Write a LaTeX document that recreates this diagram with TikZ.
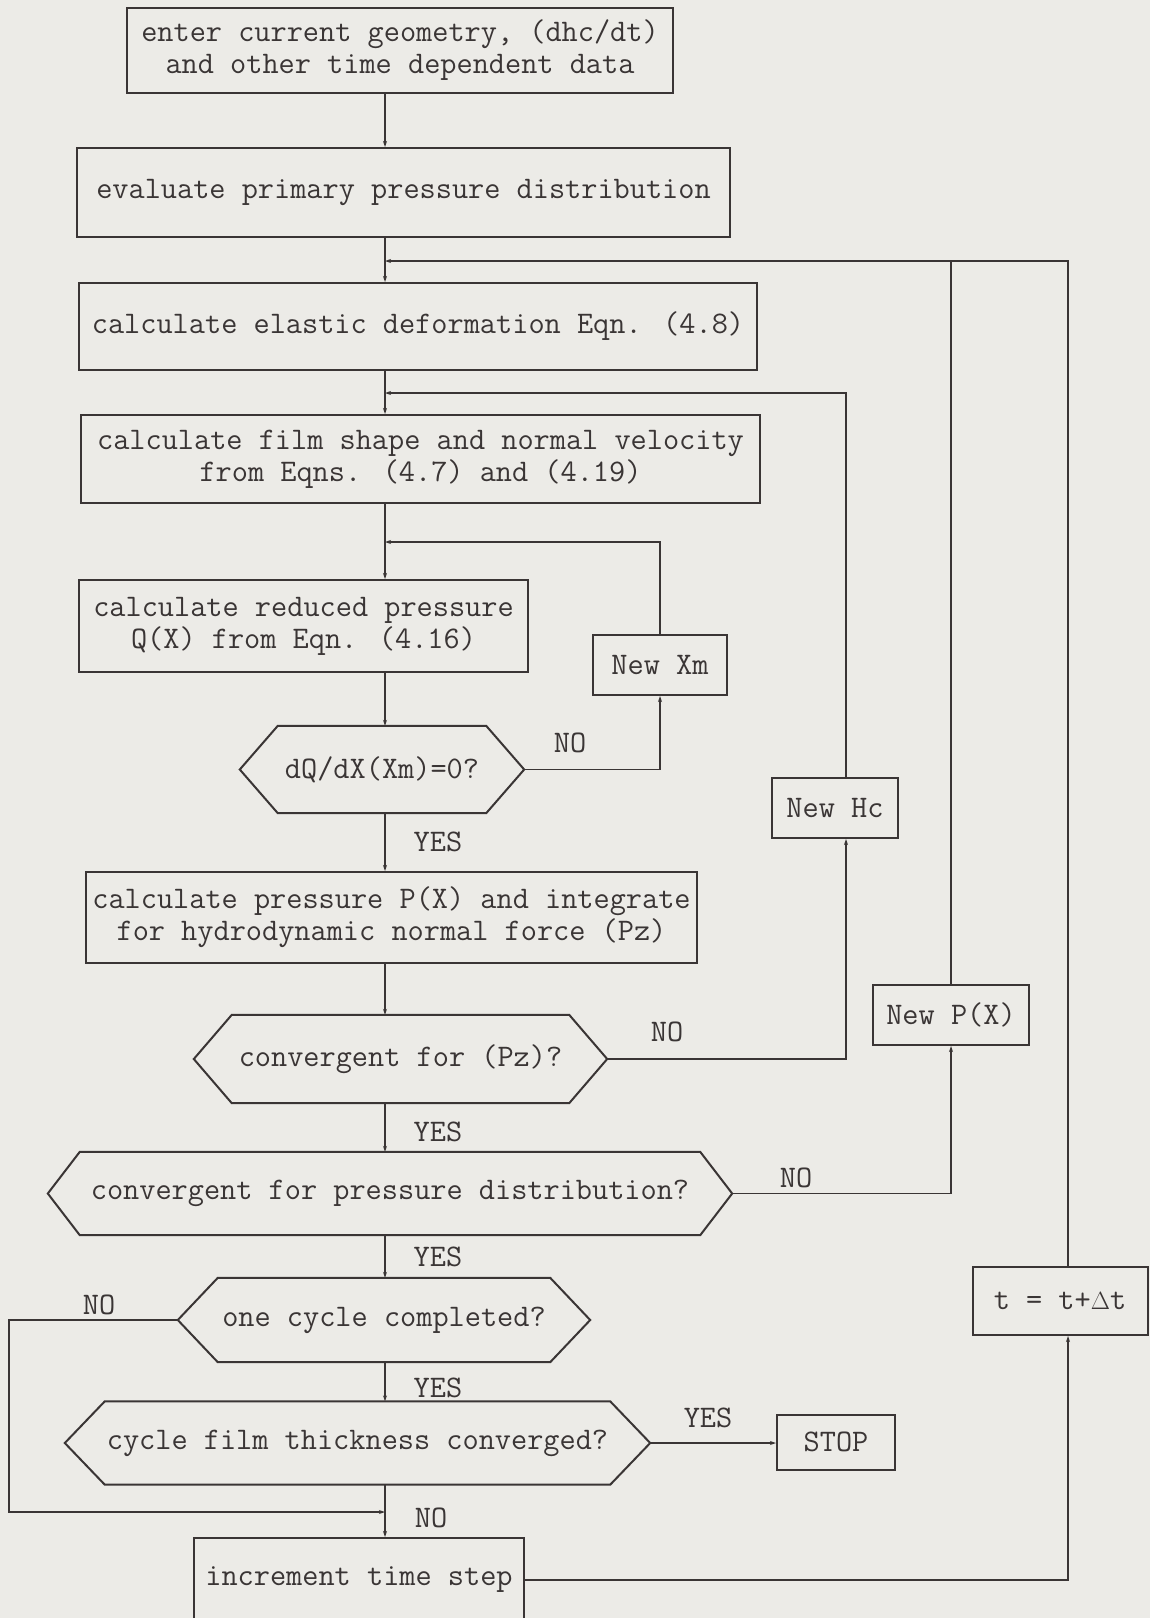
\documentclass[tikz,border=0pt]{standalone}
\usepackage{tikz}
\usetikzlibrary{arrows.meta}
\definecolor{paperColor}{RGB}{236,235,231}
\definecolor{inkColor}{RGB}{58,53,53}
\newcommand{\chartFont}{\fontsize{31.4}{32}\selectfont\ttfamily}
\tikzstyle{chartSpace} = [x = 1pt, y = -1pt]
\tikzstyle{boxLine} = [color=inkColor, line width=2pt]
\tikzstyle{stepBox} = [boxLine, draw, rectangle, inner sep=0pt, align=center, font=\chartFont]
\tikzstyle{testBox} = [rectangle, inner sep=0pt, align=center, text=inkColor, font=\chartFont]
\tikzstyle{flowLine} = [color=inkColor, line width=1.4pt, -{Stealth[length=6pt, width=4pt]}]
\tikzstyle{plainLine} = [color=inkColor, line width=1.4pt]
\tikzstyle{branchText} = [text=inkColor, font=\chartFont, inner sep=0pt]
\newcommand{\testOutline}[2]{\draw [boxLine] ([xshift=#2pt]#1.north west) -- ([xshift=-#2pt]#1.north east) -- (#1.east) -- ([xshift=-#2pt]#1.south east) -- ([xshift=#2pt]#1.south west) -- (#1.west) -- cycle;}
\newcommand{\branchLabel}[4]{\node [branchText] (#1) at (#2,#3) {#4};}

\begin{document}
\begin{tikzpicture}[chartSpace]
  \fill [paperColor] (0,0) rectangle (1150,1618);
  \useasboundingbox (0,0) rectangle (1150,1618);

  % rails and joins
  \coordinate (spine) at (385,0);
  \coordinate (leftRail) at (9,0);
  \coordinate (rightRail) at (1068,0);
  \coordinate (hcRail) at (846,0);
  \coordinate (timeLoop) at (385,261);
  \coordinate (heightLoop) at (385,393);
  \coordinate (meniscusLoop) at (385,542);
  \coordinate (cycleJoin) at (385,1512);

  % process boxes
  \node [stepBox, minimum width=546, minimum height=85] (enterBox) at (400,50.5) {enter current geometry, (dhc/dt)\\ and other time dependent data};
  \node [stepBox, minimum width=653, minimum height=89] (evalBox) at (403.5,192.5) {evaluate primary pressure distribution};
  \node [stepBox, minimum width=678, minimum height=87] (elasticBox) at (418,326.5) {calculate elastic deformation Eqn. (4.8)};
  \node [stepBox, minimum width=679, minimum height=88] (filmBox) at (420.5,459) {calculate film shape and normal velocity\\from Eqns. (4.7) and (4.19)};
  \node [stepBox, minimum width=449, minimum height=92] (reducedBox) at (303.5,626) {calculate reduced pressure\\Q(X) from Eqn. (4.16)};
  \node [stepBox, minimum width=611, minimum height=91] (pressureBox) at (391.5,917.5) {calculate pressure P(X) and integrate\\for hydrodynamic normal force (Pz)};
  \node [stepBox, minimum width=330, minimum height=84] (timeBox) at (359,1580) {increment time step};

  % update boxes
  \node [stepBox, minimum width=134, minimum height=60] (newXm) at (660,665) {New Xm};
  \node [stepBox, minimum width=126, minimum height=60] (newHc) at (835,808) {New Hc};
  \node [stepBox, minimum width=156, minimum height=60] (newPx) at (951,1015) {New P(X)};
  \node [stepBox, minimum width=175, minimum height=68] (tStep) at (1060,1301) {t = t+$\Delta$t};
  \node [stepBox, minimum width=118, minimum height=55] (stopBox) at (836,1442) {STOP};

  % tests
  \node [testBox, minimum width=284, minimum height=87] (dqTest) at (382,769.5) {dQ/dX(Xm)=0?};
  \testOutline{dqTest}{38}
  \node [testBox, minimum width=413, minimum height=88] (pzTest) at (400.5,1059) {convergent for (Pz)?};
  \testOutline{pzTest}{38}
  \node [testBox, minimum width=684, minimum height=83] (pdTest) at (390,1193.5) {convergent for pressure distribution?};
  \testOutline{pdTest}{32}
  \node [testBox, minimum width=412, minimum height=84] (cycleTest) at (384,1320) {one cycle completed?};
  \testOutline{cycleTest}{40}
  \node [testBox, minimum width=585, minimum height=83] (filmTest) at (357.5,1443) {cycle film thickness converged?};
  \testOutline{filmTest}{40}

  % main flow
  \draw [flowLine] (enterBox.south -| spine) -- (evalBox.north -| spine);
  \draw [flowLine] (evalBox.south -| spine) -- (elasticBox.north -| spine);
  \draw [flowLine] (elasticBox.south -| spine) -- (filmBox.north -| spine);
  \draw [flowLine] (filmBox.south -| spine) -- (reducedBox.north -| spine);
  \draw [flowLine] (reducedBox.south -| spine) -- (dqTest.north -| spine);
  \draw [flowLine] (dqTest.south -| spine) -- (pressureBox.north -| spine);
  \draw [flowLine] (pressureBox.south -| spine) -- (pzTest.north -| spine);
  \draw [flowLine] (pzTest.south -| spine) -- (pdTest.north -| spine);
  \draw [flowLine] (pdTest.south -| spine) -- (cycleTest.north -| spine);
  \draw [flowLine] (cycleTest.south -| spine) -- (filmTest.north -| spine);
  \draw [flowLine] (filmTest.south -| spine) -- (timeBox.north -| spine);
  \draw [flowLine] (filmTest.east) -- (filmTest.east -| stopBox.west);

  % loops
  \draw [flowLine] (dqTest.east) -| (newXm.south);
  \draw [flowLine] (newXm.north) |- (meniscusLoop);
  \draw [flowLine] (pzTest.east) -| (newHc.south -| hcRail);
  \draw [flowLine] (newHc.north -| hcRail) |- (heightLoop);
  \draw [flowLine] (pdTest.east) -| (newPx.south);
  \draw [plainLine] (newPx.north) -- (newPx.north |- timeLoop);
  \draw [flowLine] (timeBox.east) -| (tStep.south -| rightRail);
  \draw [flowLine] (tStep.north -| rightRail) |- (timeLoop);
  \draw [flowLine] (cycleTest.west) -| (leftRail |- cycleJoin) -- (cycleJoin);

  % branch labels
  \branchLabel{noXm}{570}{743}{NO}
  \branchLabel{yesDq}{438}{842}{YES}
  \branchLabel{noPz}{667}{1032}{NO}
  \branchLabel{yesPz}{438}{1132}{YES}
  \branchLabel{noPd}{796}{1178}{NO}
  \branchLabel{yesPd}{438}{1257}{YES}
  \branchLabel{noCycle}{99}{1305}{NO}
  \branchLabel{yesCycle}{438}{1388}{YES}
  \branchLabel{yesFilm}{708}{1418}{YES}
  \branchLabel{noFilm}{431}{1518}{NO}
\end{tikzpicture}
\end{document}
